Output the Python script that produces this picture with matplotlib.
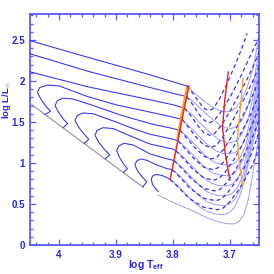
import matplotlib
matplotlib.use('Agg')
import matplotlib.pyplot as plt
from matplotlib.ticker import FixedLocator, MultipleLocator

plt.rcParams['font.family'] = ['Liberation Sans', 'DejaVu Sans']
plt.rcParams['mathtext.fontset'] = 'custom'
plt.rcParams['mathtext.rm'] = 'Liberation Sans'
plt.rcParams['mathtext.bf'] = 'Liberation Sans:bold'
plt.rcParams['mathtext.it'] = 'Liberation Sans:italic'

# ---------------- data (logTeff, logL) ----------------
zams = [(4.051, 1.728), (3.852, 0.703)]

# dark (left) parts of tracks: ZAMS hook -> Henyey -> first red line
dark_0 = [(4.05, 2.49), (3.95, 2.29), (3.84, 2.075), (3.80, 1.99), (3.776, 1.94)]
dark_1 = [(4.05, 2.33), (3.95, 2.12), (3.84, 1.92), (3.80, 1.85), (3.776, 1.81)]
dark_2 = [(4.05, 2.11), (3.95, 1.93), (3.84, 1.77), (3.80, 1.71), (3.780, 1.67)]
dark_3 = [(4.025, 1.59), (4.015, 1.63), (4.024, 1.70), (4.032, 1.78), (4.038, 1.86), (4.034, 1.92),
          (4.02, 1.95), (4.00, 1.94), (3.95, 1.81), (3.90, 1.71), (3.84, 1.62), (3.80, 1.56), (3.784, 1.53)]
dark_4 = [(3.993, 1.43), (3.985, 1.48), (3.993, 1.54), (4.001, 1.62), (4.007, 1.70), (4.003, 1.76),
          (3.993, 1.79), (3.975, 1.78), (3.94, 1.70), (3.89, 1.58), (3.84, 1.48), (3.80, 1.42), (3.788, 1.40)]
dark_5 = [(3.956, 1.24), (3.948, 1.29), (3.957, 1.36), (3.966, 1.44), (3.972, 1.52), (3.968, 1.58),
          (3.958, 1.61), (3.94, 1.60), (3.90, 1.50), (3.87, 1.42), (3.84, 1.35), (3.80, 1.29), (3.791, 1.27)]
dark_6 = [(3.919, 1.05), (3.911, 1.10), (3.921, 1.17), (3.931, 1.26), (3.937, 1.34), (3.933, 1.40),
          (3.923, 1.43), (3.905, 1.42), (3.875, 1.33), (3.84, 1.23), (3.80, 1.17), (3.795, 1.15)]
dark_7 = [(3.887, 0.885), (3.880, 0.93), (3.887, 0.99), (3.894, 1.07), (3.899, 1.15), (3.895, 1.21),
          (3.886, 1.24), (3.87, 1.22), (3.84, 1.11), (3.81, 1.05), (3.798, 1.03)]
dark_8 = [(3.853, 0.71), (3.846, 0.77), (3.854, 0.83), (3.862, 0.90), (3.867, 0.98), (3.863, 1.03),
          (3.855, 1.05), (3.845, 1.03), (3.83, 0.98), (3.81, 0.93), (3.8015, 0.92)]
dark_9 = [(3.826, 0.65), (3.831, 0.69), (3.836, 0.74), (3.838, 0.80), (3.836, 0.84), (3.83, 0.86),
          (3.82, 0.85), (3.81, 0.82), (3.805, 0.80)]

# light solid right parts: red line -> dip -> Hayashi (right edge)
light_0 = [(3.776, 1.94), (3.762, 1.85), (3.748, 1.77), (3.733, 1.69), (3.72, 1.645), (3.71, 1.625), (3.70, 1.63),
           (3.69, 1.67), (3.68, 1.76), (3.67, 1.92), (3.66, 2.14), (3.652, 2.42), (3.645, 2.70)]
light_1 = [(3.776, 1.81), (3.76, 1.72), (3.745, 1.62), (3.73, 1.53), (3.717, 1.46), (3.706, 1.43), (3.697, 1.42),
           (3.688, 1.45), (3.678, 1.53), (3.668, 1.70), (3.659, 1.95), (3.652, 2.25), (3.645, 2.60)]
light_2 = [(3.780, 1.67), (3.765, 1.58), (3.75, 1.47), (3.735, 1.37), (3.72, 1.29), (3.708, 1.255), (3.698, 1.25),
           (3.689, 1.27), (3.679, 1.35), (3.669, 1.52), (3.66, 1.78), (3.653, 2.08), (3.645, 2.46)]
light_3 = [(3.784, 1.53), (3.77, 1.44), (3.755, 1.33), (3.74, 1.23), (3.725, 1.15), (3.712, 1.115), (3.70, 1.11),
           (3.69, 1.13), (3.68, 1.20), (3.67, 1.36), (3.661, 1.62), (3.654, 1.93), (3.645, 2.34)]
light_4 = [(3.788, 1.40), (3.773, 1.31), (3.758, 1.20), (3.743, 1.09), (3.728, 1.01), (3.714, 0.98), (3.702, 0.975),
           (3.692, 0.995), (3.682, 1.07), (3.672, 1.22), (3.663, 1.47), (3.655, 1.78), (3.645, 2.20)]
light_5 = [(3.791, 1.27), (3.776, 1.18), (3.761, 1.07), (3.746, 0.96), (3.731, 0.88), (3.716, 0.85), (3.704, 0.845),
           (3.694, 0.865), (3.684, 0.94), (3.674, 1.09), (3.665, 1.33), (3.657, 1.63), (3.645, 2.08)]
light_6 = [(3.795, 1.15), (3.78, 1.06), (3.765, 0.95), (3.75, 0.84), (3.735, 0.76), (3.72, 0.725), (3.707, 0.72),
           (3.696, 0.74), (3.686, 0.81), (3.676, 0.96), (3.667, 1.19), (3.659, 1.49), (3.645, 1.98)]
light_7 = [(3.798, 1.03), (3.783, 0.94), (3.768, 0.83), (3.753, 0.72), (3.738, 0.64), (3.722, 0.605), (3.709, 0.60),
           (3.698, 0.62), (3.688, 0.69), (3.678, 0.83), (3.669, 1.06), (3.661, 1.36), (3.645, 1.88)]
light_8 = [(3.8015, 0.92), (3.786, 0.83), (3.771, 0.72), (3.756, 0.61), (3.741, 0.53), (3.725, 0.49), (3.711, 0.48),
           (3.70, 0.50), (3.69, 0.57), (3.68, 0.71), (3.671, 0.94), (3.662, 1.24), (3.645, 1.78)]
light_9 = [(3.805, 0.80), (3.79, 0.71), (3.775, 0.60), (3.76, 0.50), (3.744, 0.42), (3.728, 0.38), (3.714, 0.37),
           (3.703, 0.385), (3.693, 0.45), (3.683, 0.59), (3.673, 0.82), (3.664, 1.12), (3.645, 1.66)]
light_10 = [(3.826, 0.61), (3.815, 0.57), (3.80, 0.52), (3.78, 0.46), (3.76, 0.40), (3.74, 0.33), (3.72, 0.28),
            (3.705, 0.26), (3.694, 0.256), (3.685, 0.28), (3.676, 0.36), (3.668, 0.55), (3.661, 0.82),
            (3.655, 1.08), (3.645, 1.50)]

# dashed right parts (second set of tracks)
dash_0 = [(3.776, 1.94), (3.765, 1.85), (3.755, 1.75), (3.746, 1.67), (3.738, 1.64), (3.73, 1.66), (3.72, 1.76),
          (3.705, 1.97), (3.69, 2.21), (3.678, 2.42), (3.670, 2.58)]
dash_1 = [(3.776, 1.81), (3.765, 1.71), (3.755, 1.60), (3.745, 1.52), (3.737, 1.49), (3.729, 1.51), (3.718, 1.60),
          (3.70, 1.80), (3.685, 2.0), (3.67, 2.22), (3.658, 2.40), (3.645, 2.58)]
dash_2 = [(3.780, 1.67), (3.768, 1.57), (3.757, 1.46), (3.746, 1.37), (3.736, 1.34), (3.727, 1.36), (3.716, 1.45),
          (3.70, 1.63), (3.685, 1.82), (3.67, 2.02), (3.658, 2.2), (3.645, 2.41)]
dash_3 = [(3.784, 1.53), (3.772, 1.43), (3.76, 1.32), (3.746, 1.22), (3.735, 1.19), (3.725, 1.21), (3.714, 1.30),
          (3.70, 1.46), (3.685, 1.65), (3.67, 1.85), (3.658, 2.03), (3.645, 2.24)]
dash_4 = [(3.788, 1.40), (3.775, 1.30), (3.762, 1.19), (3.745, 1.08), (3.733, 1.05), (3.723, 1.07), (3.712, 1.16),
          (3.698, 1.31), (3.684, 1.49), (3.67, 1.68), (3.658, 1.86), (3.645, 2.08)]
dash_5 = [(3.791, 1.27), (3.778, 1.17), (3.764, 1.06), (3.746, 0.95), (3.731, 0.92), (3.721, 0.94), (3.71, 1.02),
          (3.696, 1.17), (3.682, 1.35), (3.668, 1.53), (3.657, 1.70), (3.645, 1.92)]
dash_6 = [(3.795, 1.15), (3.781, 1.05), (3.766, 0.93), (3.746, 0.82), (3.729, 0.79), (3.719, 0.81), (3.708, 0.89),
          (3.694, 1.03), (3.68, 1.20), (3.667, 1.38), (3.656, 1.55), (3.645, 1.77)]
dash_7 = [(3.798, 1.03), (3.784, 0.93), (3.768, 0.81), (3.746, 0.69), (3.727, 0.66), (3.717, 0.68), (3.706, 0.76),
          (3.692, 0.90), (3.678, 1.06), (3.665, 1.24), (3.655, 1.41), (3.645, 1.61)]
dash_8 = [(3.8015, 0.92), (3.787, 0.82), (3.77, 0.69), (3.746, 0.57), (3.725, 0.54), (3.715, 0.56), (3.704, 0.64),
          (3.69, 0.77), (3.676, 0.93), (3.663, 1.10), (3.654, 1.27), (3.645, 1.47)]
dash_9 = [(3.805, 0.80), (3.79, 0.70), (3.772, 0.57), (3.746, 0.46), (3.722, 0.43), (3.712, 0.45), (3.70, 0.53),
          (3.686, 0.66), (3.673, 0.81), (3.661, 0.97), (3.652, 1.13), (3.645, 1.32)]

# isochrone-like lines
red_line_a = [(3.805, 0.80), (3.797, 1.08), (3.789, 1.36), (3.781, 1.64), (3.772, 1.94)]
orange_line_a = [(3.792, 1.30), (3.786, 1.55), (3.779, 1.80), (3.776, 1.91)]
red_line_b = [(3.703, 2.11), (3.709, 1.77), (3.713, 1.44), (3.708, 1.10), (3.700, 0.79)]
orange_line_b = [(3.677, 2.03), (3.682, 1.65), (3.687, 1.30), (3.685, 1.08), (3.678, 0.73)]

x_ticks = [4.0, 3.9, 3.8, 3.7]
x_tick_labels = ['4', '3.9', '3.8', '3.7']
y_ticks = [0, 0.5, 1, 1.5, 2, 2.5]
y_tick_labels = ['0', '0.5', '1', '1.5', '2', '2.5']

# ---------------- drawing ----------------
DARK = '#3030f8'
LIGHT = '#9c9cff'
DASH = '#3333f5'
AXC = '#5a5aff'
LBC = '#2525e8'


def xy(pts):
    return [p[0] for p in pts], [p[1] for p in pts]


fig = plt.figure(figsize=(2.74, 2.74), dpi=100)
ax = fig.add_axes([30 / 274, 1 - 245 / 274, 229 / 274, 231 / 274])

for tr in [light_0, light_1, light_2, light_3, light_4, light_5, light_6, light_7, light_8, light_9, light_10]:
    x, y = xy(tr)
    ax.plot(x, y, color=LIGHT, lw=0.7, zorder=2)

for tr in [dash_0, dash_1, dash_2, dash_3, dash_4, dash_5, dash_6, dash_7, dash_8, dash_9]:
    x, y = xy(tr)
    ax.plot(x, y, color=DASH, lw=0.9, ls=(0, (3.2, 2.4)), zorder=3)

x, y = xy(zams)
ax.plot(x, y, color='#9a9a9a', lw=0.9, zorder=3)

for tr in [dark_0, dark_1, dark_2, dark_3, dark_4, dark_5, dark_6, dark_7, dark_8, dark_9]:
    x, y = xy(tr)
    ax.plot(x, y, color=DARK, lw=0.75, zorder=4)

x, y = xy(orange_line_a)
ax.plot(x, y, color='#ffa030', lw=1.6, zorder=5)
x, y = xy(red_line_a)
ax.plot(x, y, color='#ee2a10', lw=1.1, zorder=6)
x, y = xy(red_line_b)
ax.plot(x, y, color='#e82020', lw=1.0, zorder=6)
x, y = xy(orange_line_b)
ax.plot(x, y, color='#ffa040', lw=1.0, zorder=6)

ax.set_xlim(4.051, 3.649)
ax.set_ylim(0, 2.817)

ax.xaxis.set_major_locator(FixedLocator(x_ticks))
ax.set_xticklabels(x_tick_labels)
ax.xaxis.set_minor_locator(MultipleLocator(0.02))
ax.yaxis.set_major_locator(FixedLocator(y_ticks))
ax.set_yticklabels(y_tick_labels)
ax.yaxis.set_minor_locator(MultipleLocator(0.1))

ax.tick_params(which='both', direction='in', top=True, right=True, color=AXC, width=0.9)
ax.tick_params(which='major', length=4.5, labelsize=7.0, labelcolor=LBC, pad=3.5)
ax.tick_params(which='minor', length=2.5)
for lab in ax.get_xticklabels() + ax.get_yticklabels():
    lab.set_fontweight('bold')
for s in ax.spines.values():
    s.set_color(AXC)
    s.set_linewidth(1.3)

ax.set_xlabel(r'log T$_{\mathbf{eff}}$', color=LBC, fontsize=7.5, fontweight='bold')
ax.xaxis.set_label_coords(0.506, -0.058)
fig.text(6.5 / 274, 1 - 100 / 274, r'log L/L$_{\odot}$', color=LBC, fontsize=6.8, fontweight='bold',
         rotation=90, ha='center', va='center')

fig.savefig('out.png', dpi=100)
